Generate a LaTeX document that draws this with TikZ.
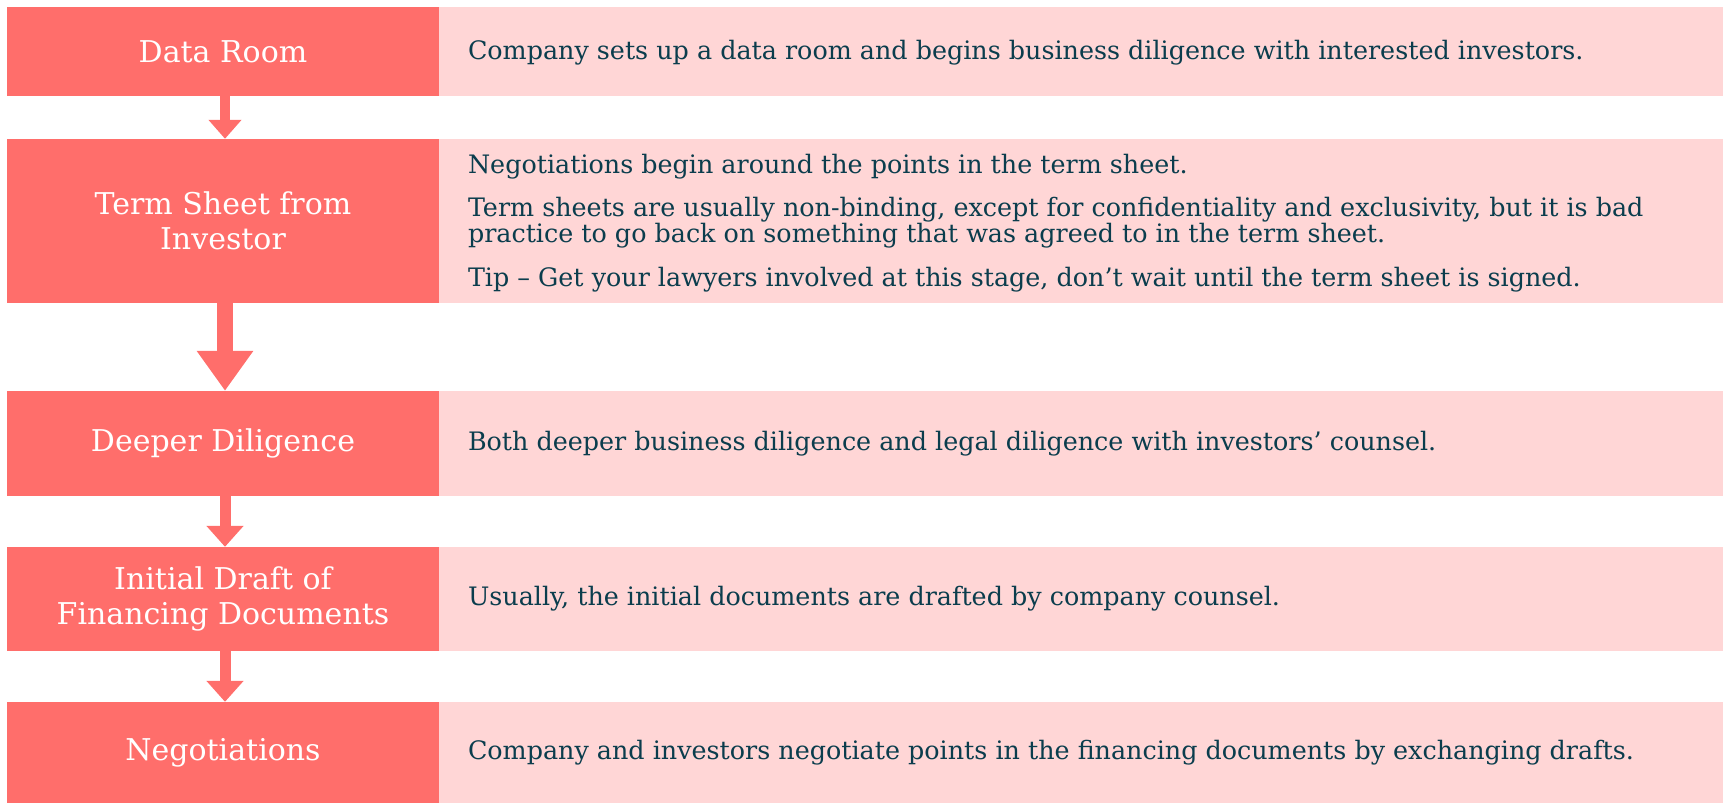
\documentclass[tikz,border=0pt]{standalone}
\usepackage{fontspec}
\setmainfont{DejaVu Serif}
\usetikzlibrary{arrows.meta}

\definecolor{coral}{HTML}{FF6E6B}
\definecolor{blush}{HTML}{FFD6D6}
\definecolor{inkteal}{HTML}{0B3D4D}

\tikzset{
  stagebox/.style={fill=coral, draw=none, inner sep=0pt, minimum width=432pt,
    text=white, align=center, font=\fontsize{30}{34.5}\selectfont},
  notebox/.style={fill=blush, draw=none, inner sep=0pt, minimum width=1284pt},
  notetext/.style={anchor=west, inner sep=0pt, text=inkteal, align=left,
    font=\fontsize{25.4}{23.7}\selectfont},
  flow/.style={coral, line width=10pt,
    -{Triangle[length=19pt, width=32pt]}},
  bigflow/.style={coral, line width=16pt,
    -{Triangle[length=40pt, width=54pt]}},
  midflow/.style={coral, line width=11pt,
    -{Triangle[length=21pt, width=36pt]}},
}

\begin{document}
\begin{tikzpicture}[x=1pt, y=-1pt]
\useasboundingbox (0,0) rectangle (1723,803);

% stage boxes (left column)
\node[stagebox, minimum height=89pt]  (s1) at (223, 51.5)  {Data Room};
\node[stagebox, minimum height=164pt] (s2) at (223, 221)   {Term Sheet from\\Investor};
\node[stagebox, minimum height=105pt] (s3) at (223, 443.5) {Deeper Diligence};
\node[stagebox, minimum height=104pt] (s4) at (223, 599)   {Initial Draft of\\Financing Documents};
\node[stagebox, minimum height=101pt] (s5) at (223, 752.5) {Negotiations};

% description bands (right column)
\node[notebox, minimum height=89pt]  (n1) at (1081, 51.5)  {};
\node[notebox, minimum height=164pt] (n2) at (1081, 221)   {};
\node[notebox, minimum height=105pt] (n3) at (1081, 443.5) {};
\node[notebox, minimum height=104pt] (n4) at (1081, 599)   {};
\node[notebox, minimum height=101pt] (n5) at (1081, 752.5) {};

% descriptions
\node[notetext] (t1) at ([xshift=29pt, yshift=-1pt]n1.west)
  {Company sets up a data room and begins business diligence with interested investors.};
\node[notetext] (t2) at ([xshift=29pt, yshift=-2pt]n2.west)
  {Negotiations begin around the points in the term sheet.\\[17pt]
   Term sheets are usually non-binding, except for confidentiality and exclusivity, but it is bad\\
   practice to go back on something that was agreed to in the term sheet.\\[18.6pt]
   Tip – Get your lawyers involved at this stage, don’t wait until the term sheet is signed.};
\node[notetext] (t3) at ([xshift=29pt]n3.west)
  {Both deeper business diligence and legal diligence with investors’ counsel.};
\node[notetext] (t4) at ([xshift=29pt]n4.west)
  {Usually, the initial documents are drafted by company counsel.};
\node[notetext] (t5) at ([xshift=29pt]n5.west)
  {Company and investors negotiate points in the financing documents by exchanging drafts.};

% flow arrows between stages
\draw[flow]    ([xshift=2pt]s1.south) -- ([xshift=2pt]s2.north);
\draw[bigflow] ([xshift=2pt]s2.south) -- ([xshift=2pt]s3.north);
\draw[midflow] ([xshift=2pt]s3.south) -- ([xshift=2pt]s4.north);
\draw[midflow] ([xshift=2pt]s4.south) -- ([xshift=2pt]s5.north);
\end{tikzpicture}
\end{document}
